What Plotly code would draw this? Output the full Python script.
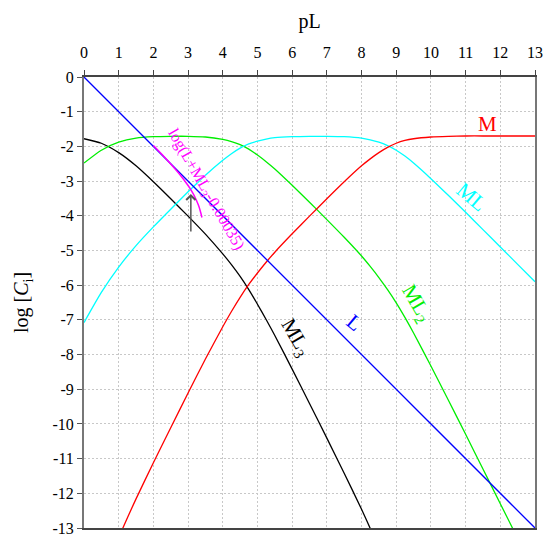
import plotly.graph_objects as go

# pL grid shared by the complex curves
pL = [0, 0.5, 1, 1.5, 2, 2.5, 3, 3.5, 4, 4.25, 4.5, 4.75, 5, 5.25, 5.5, 6, 6.5, 7, 7.5, 8,
      8.25, 8.5, 8.75, 9, 9.25, 9.5, 10, 10.5, 11, 11.5, 12, 12.5, 13]

logM = [-15.88, -14.51, -13.28, -12.16, -11.12, -10.11, -9.11, -8.13, -7.20, -6.76, -6.35,
        -5.98, -5.65, -5.34, -5.05, -4.52, -4.01, -3.51, -3.02, -2.56, -2.36, -2.18, -2.03,
        -1.91, -1.83, -1.78, -1.73, -1.71, -1.70, -1.70, -1.70, -1.70, -1.70]

logML = [-7.08, -6.21, -5.48, -4.86, -4.32, -3.81, -3.31, -2.83, -2.40, -2.21, -2.05,
         -1.93, -1.85, -1.79, -1.75, -1.72, -1.71, -1.71, -1.72, -1.76, -1.81, -1.88, -1.98,
         -2.11, -2.28, -2.48, -2.93, -3.41, -3.90, -4.40, -4.90, -5.40, -5.90]

logML2 = [-2.48, -2.11, -1.88, -1.76, -1.72, -1.71, -1.71, -1.73, -1.80, -1.86, -1.95,
          -2.08, -2.25, -2.44, -2.65, -3.12, -3.61, -4.11, -4.62, -5.16, -5.46, -5.78, -6.13,
          -6.51, -6.93, -7.38, -8.33, -9.31, -10.30, -11.30, -12.30, -13.30, -14.30]

logML3 = [-1.78, -1.91, -2.18, -2.56, -3.02, -3.51, -4.01, -4.53, -5.10, -5.41, -5.75,
          -6.13, -6.55, -6.99, -7.45, -8.42, -9.41, -10.41, -11.42, -12.46, -13.01, -13.58,
          -14.18, -14.81, None, None, None, None, None, None, None, None, None]

L_x = [0, 13]
logL = [0, -13]

mag_x = [2.0, 2.25, 2.5, 2.75, 3.0, 3.1, 3.2, 3.3, 3.35, 3.4]
mag_y = [-1.975, -2.235, -2.506, -2.795, -3.127, -3.283, -3.466, -3.70, -3.856, -4.05]

arrow_x = 3.08
arrow_tail = -4.5
arrow_head = -3.37

x_ticks = list(range(0, 14))
y_ticks = list(range(0, -14, -1))
y_ticktext = [str(v) for v in y_ticks]

FONT = "Liberation Serif"

fig = go.Figure()

def curve(x, y, color, width=1.3):
    fig.add_trace(go.Scatter(x=x, y=y, mode="lines",
                             line=dict(color=color, width=width, shape="spline", smoothing=0.6),
                             showlegend=False, hoverinfo="skip"))

curve(pL, logML3, "#000000")
curve(pL, logML2, "#00ee00")
curve(pL, logML, "#00ffff")
curve(pL, logM, "#ff0000")
fig.add_trace(go.Scatter(x=L_x, y=logL, mode="lines", line=dict(color="#0000ff", width=1.3),
                         showlegend=False, hoverinfo="skip"))
curve(mag_x, mag_y, "#ff00ff", 1.5)

labels = [
    ("M", 11.62, -1.35, 0, "#ff0000", 21),
    ("ML", 11.17, -3.45, 40, "#00ffff", 21),
    ("ML<sub>2</sub>", 9.57, -6.52, 60, "#00ee00", 21),
    ("L", 7.81, -7.09, 40, "#0000ff", 21),
    ("ML<sub>3</sub>", 6.11, -7.52, 60, "#000000", 21),
    ("log(L+ML<sub>3</sub>-0.00035)", 3.52, -3.23, 60, "#ff00ff", 16),
]
for txt, x, y, ang, col, sz in labels:
    fig.add_annotation(x=x, y=y, text=txt, showarrow=False, textangle=ang,
                       font=dict(family=FONT, size=sz, color=col),
                       xanchor="center", yanchor="middle")

fig.add_annotation(x=arrow_x, y=arrow_head, ax=arrow_x, ay=arrow_tail,
                   xref="x", yref="y", axref="x", ayref="y", text="",
                   showarrow=True, arrowhead=4, arrowsize=1.2, arrowwidth=1.5,
                   arrowcolor="#555555")

axis_common = dict(
    showline=True, linewidth=2, mirror=True, automargin=False,
    ticks="outside", ticklen=5, tickwidth=1,
    showgrid=True, gridcolor="#c8c8c8", griddash="2px,2px", gridwidth=1,
    zeroline=False, tickfont=dict(family=FONT, size=16, color="black"),
)

fig.update_xaxes(range=[0, 13], side="top", linecolor="#444444", tickcolor="#444444",
                 tickmode="array", tickvals=x_ticks, ticktext=[str(v) for v in x_ticks],
                 ticklabelstandoff=6,
                 title=dict(text="pL", font=dict(family=FONT, size=20, color="black"), standoff=10),
                 **axis_common)
fig.update_yaxes(range=[-13, 0], linecolor="#777777", tickcolor="#555555",
                 tickmode="array", tickvals=y_ticks, ticktext=y_ticktext,
                 title=dict(text="log [<i>C</i><sub>i</sub>]", font=dict(family=FONT, size=20, color="black"),
                            standoff=18),
                 **axis_common)

fig.update_layout(width=546, height=541, margin=dict(l=84, r=11, t=77, b=13),
                  paper_bgcolor="white", plot_bgcolor="white",
                  font=dict(family=FONT, color="black"))

fig.write_html("out.html", config={"displayModeBar": False},
               post_script="document.body.style.margin='0';document.body.style.overflow='hidden';")
